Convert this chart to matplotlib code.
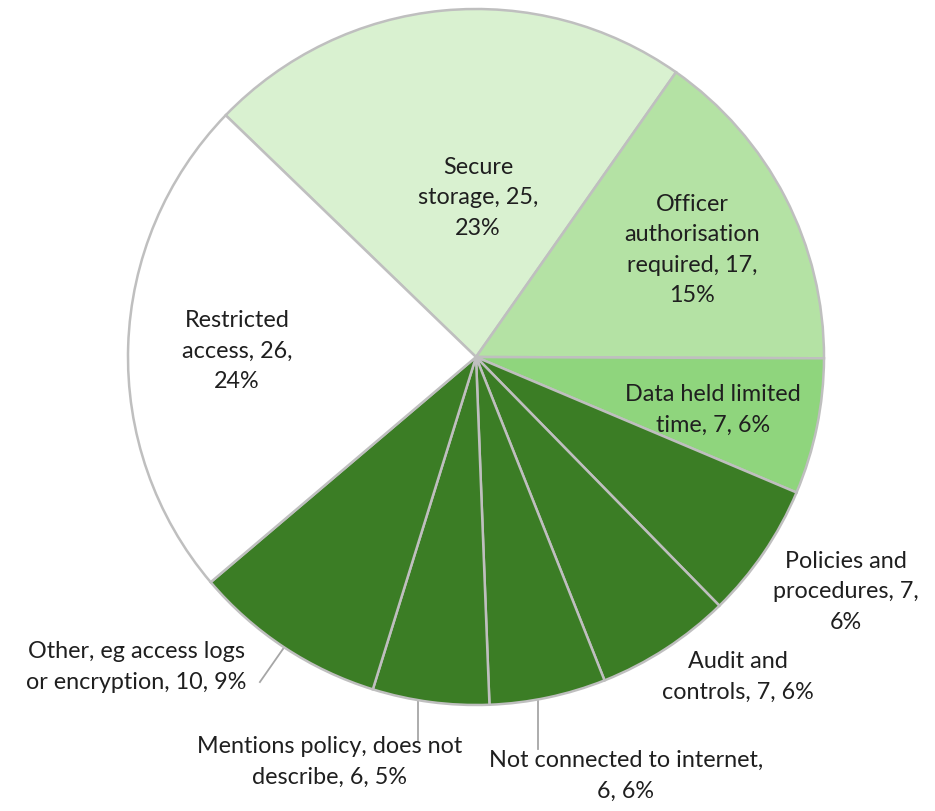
import numpy as np
import matplotlib
matplotlib.use('Agg')
import matplotlib.pyplot as plt

# slice data, clockwise from the top-left edge
labels = ['Secure\nstorage, 25,\n23%',
          'Officer\nauthorisation\nrequired, 17,\n15%',
          'Data held limited\ntime, 7, 6%',
          'Policies and\nprocedures, 7,\n6%',
          'Audit and\ncontrols, 7, 6%',
          'Not connected to internet,\n6, 6%',
          'Mentions policy, does not\ndescribe, 6, 5%',
          'Other, eg access logs\nor encryption, 10, 9%',
          'Restricted\naccess, 26,\n24%']
counts = [25, 17, 7, 7, 7, 6, 6, 10, 26]
colors = ['#d9f1d0', '#b4e2a4', '#8fd57d', '#3b7d25', '#3b7d25',
          '#3b7d25', '#3b7d25', '#3b7d25', '#ffffff']

# label placement (data units, pie radius = 1)
label_pos = [(0.006, 0.46), (0.621, 0.31), (0.681, -0.149), (1.063, -0.672),
             (0.753, -0.917), (0.431, -1.201), (-0.422, -1.161),
             (-0.977, -0.888), (-0.687, 0.02)]

plt.rcParams['font.family'] = ['Lato', 'DejaVu Sans']

fig = plt.figure(figsize=(9.35, 8.12), dpi=100)
ax = fig.add_axes([0, 0, 1, 1])
ax.axis('off')

wedges, _ = ax.pie(counts, colors=colors, startangle=136, counterclock=False,
                   radius=1, wedgeprops=dict(edgecolor='#bfbfbf', linewidth=1.8))

# 348 px per unit both ways, centre at (476, 358) px
s = 348.0
ax.set_xlim(-476 / s, (935 - 476) / s)
ax.set_ylim(-(812 - 358) / s, 358 / s)
ax.set_aspect('auto')

for lab, (x, y) in zip(labels, label_pos):
    ax.text(x, y, lab, ha='center', va='center', fontsize=16.8,
            color='#1f1f1f', linespacing=1.55)

# leader lines: two straight down from the rim, one short slanted
for x, ey in [(0.178, -1.126), (-0.167, -1.103)]:
    ax.plot([x, x], [-np.sqrt(1 - x * x), ey], color='#a6a6a6', lw=1.3, zorder=0)
w = wedges[7]
a = np.deg2rad((w.theta1 + w.theta2) / 2)
ax.plot([np.cos(a), -0.621], [np.sin(a), -0.934], color='#a6a6a6', lw=1.3, zorder=0)

fig.savefig('out.png', dpi=100)
